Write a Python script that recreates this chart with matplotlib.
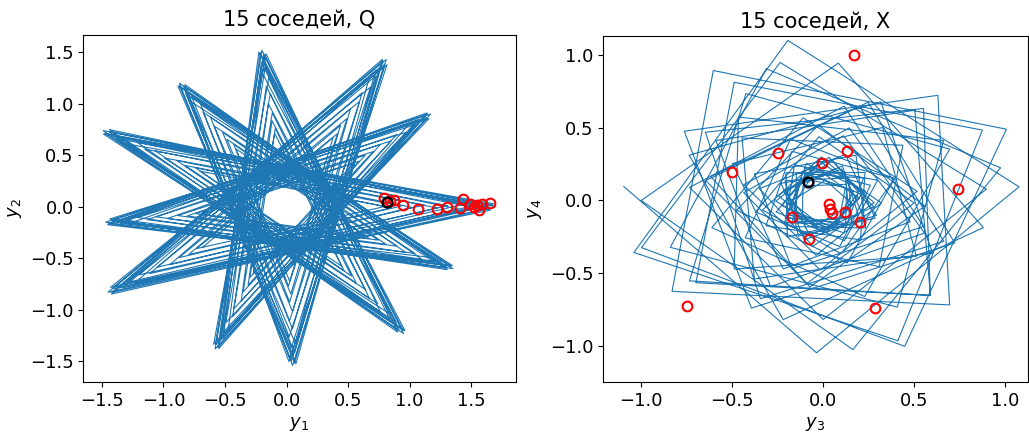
import numpy as np
import matplotlib
matplotlib.use("Agg")
import matplotlib.pyplot as plt

# ============================================================
# DATA
# ============================================================
# Left panel: star tips (outermost pass), visiting order, scale and turn of each pass
tip_x = [1.70, 1.17, 0.81, -0.20, -0.87, -1.49, -1.47, -1.45, -0.58, 0.05, 0.95, 1.35]
tip_y = [0.00, 0.90, 1.43, 1.52, 1.20, 0.74, -0.15, -0.83, -1.38, -1.54, -1.23, -0.60]
tip_order = [0, 5, 10, 3, 8, 1, 6, 11, 4, 9, 2, 7]
pass_scale = [1.00, 0.985, 0.97, 0.99, 0.96, 0.94, 0.975, 0.92, 0.89, 0.86,
              0.82, 0.77, 0.72, 0.66, 0.60, 0.55, 0.50, 0.47]
pass_turn = [0.0, 0.6, -0.4, 1.0, -0.8, 0.3, -1.1, 0.8, -0.2, 1.2,
             -0.9, 0.5, -0.6, 0.9, -0.3, 0.5, -0.7, 0.2]   # degrees

# Left panel: 15 neighbours and the query point
nbr_q_x = [0.79, 0.87, 0.95, 1.07, 1.22, 1.30, 1.41, 1.43, 1.49, 1.55, 1.56, 1.59, 1.65, 1.52, 0.84]
nbr_q_y = [0.09, 0.065, 0.02, -0.02, -0.025, -0.006, -0.01, 0.08, 0.03, 0.016, -0.03, 0.026, 0.04, 0.00, 0.06]
query_q = (0.82, 0.05)

# Right panel: trajectory vertices in polar form (radius, angle in degrees)
traj_r = [1.10, 1.05, 1.08, 1.12, 1.10, 1.05, 1.00, 0.95, 0.90, 0.88,
          0.84, 0.80, 0.76, 0.72, 0.68, 0.64, 0.60, 0.56, 0.52, 0.48,
          0.45, 0.42, 0.38, 0.36, 0.34, 0.30, 0.28, 0.32, 0.26, 0.24,
          0.22, 0.25, 0.28, 0.30, 0.26, 0.22, 0.20, 0.18, 0.22, 0.25,
          0.27, 0.24, 0.21, 0.19, 0.23, 0.26, 0.29, 0.31, 0.28, 0.25,
          0.22, 0.20, 0.24, 0.27, 0.30, 0.33, 0.29, 0.26, 0.23, 0.21,
          0.25, 0.28, 0.31, 0.34, 0.36, 0.32, 0.28, 0.30, 0.34, 0.38,
          0.42, 0.46, 0.50, 0.55, 0.58, 0.62, 0.66, 0.70, 0.75, 0.80,
          0.85, 0.90, 0.95, 1.00, 1.04, 1.00, 0.96, 0.90, 0.84, 0.78,
          0.74, 0.68, 0.64, 0.60, 0.56, 0.52, 0.50, 0.46, 0.44, 0.48,
          0.52, 0.58, 0.64, 0.70, 0.78, 0.85, 0.92, 0.88, 0.80, 0.72,
          0.66, 0.60, 0.52, 0.45, 0.38, 0.32, 0.27, 0.23, 0.20, 0.18,
          0.21, 0.24, 0.20, 0.17, 0.15, 0.19, 0.22, 0.26, 0.23, 0.19,
          0.16, 0.14, 0.18, 0.21, 0.24, 0.27, 0.22, 0.18, 0.15, 0.20,
          0.25, 0.30, 0.36, 0.42, 0.50, 0.58, 0.66, 0.74, 0.82, 0.90,
          0.98, 1.05, 1.10, 1.12, 1.08, 1.04, 1.00, 0.96, 0.90, 0.84,
          0.78, 0.72, 0.66, 0.58, 0.50, 0.44, 0.38, 0.33, 0.28, 0.24]
traj_a = [175, 268, 5, 100, 199, 293, 29, 121, 219, 312,
          49, 144, 243, 337, 73, 165, 263, 356, 93, 188,
          287, 21, 117, 209, 307, 40, 137, 232, 331, 65,
          161, 253, 351, 84, 181, 276, 15, 109, 205, 297,
          35, 128, 225, 320, 59, 153, 249, 341, 79, 172,
          269, 4, 103, 197, 293, 25, 123, 216, 313, 48,
          147, 241, 337, 69, 167, 260, 357, 92, 191, 285,
          21, 113, 211, 304, 41, 136, 235, 329, 65, 157,
          255, 348, 85, 180, 279, 13, 109, 201, 299, 32,
          129, 224, 323, 57, 153, 245, 343, 76, 173, 268,
          7, 101, 197, 289, 27, 120, 217, 312, 51, 145,
          244, 338, 74, 166, 264, 357, 94, 189, 288, 22,
          118, 210, 308, 41, 138, 233, 332, 66, 162, 254,
          352, 85, 182, 277, 16, 110, 206, 298, 36, 129,
          226, 321, 60, 154, 250, 342, 80, 173, 270, 5,
          104, 198, 294, 26, 124, 217, 314, 49, 148, 242,
          338, 70, 168, 261, 358, 93, 192, 286, 22, 114]

# Right panel: 15 neighbours and the query point
nbr_x_x = [0.17, -0.25, 0.13, -0.005, -0.50, 0.74, 0.03, 0.046, 0.12, -0.17, 0.20, -0.08, -0.75, 0.284, 0.04]
nbr_x_y = [1.005, 0.327, 0.338, 0.255, 0.193, 0.08, -0.025, -0.083, -0.08, -0.117, -0.145, -0.266, -0.73, -0.742, -0.06]
query_x = (-0.082, 0.124)

titles = ['15 соседей, Q', '15 соседей, X']

# ============================================================
# BUILD TRAJECTORIES
# ============================================================
tx = np.array(tip_x)[tip_order]
ty = np.array(tip_y)[tip_order]
px, py = [], []
for s, t in zip(pass_scale, pass_turn):
    c, d = np.cos(np.deg2rad(t)), np.sin(np.deg2rad(t))
    px.append(s * (c * tx - d * ty))
    py.append(s * (d * tx + c * ty))
y1 = np.concatenate(px)
y2 = np.concatenate(py)

n = min(len(traj_r), len(traj_a))
rr = np.array(traj_r[:n])
aa = np.deg2rad(traj_a[:n])
y3 = rr * np.cos(aa)
y4 = rr * np.sin(aa)

# ============================================================
# PLOT
# ============================================================
plt.rcParams['font.family'] = ['DejaVu Sans']
plt.rcParams['font.size'] = 13

fig = plt.figure(figsize=(10.29, 4.34), dpi=100)
ax1 = fig.add_axes([0.081, 0.120, 0.420, 0.800])
ax2 = fig.add_axes([0.586, 0.120, 0.413, 0.798])

LINE = dict(color='#1f77b4', linewidth=0.8)
RED = dict(linestyle='none', marker='o', markersize=7, mfc='none', mec='red', mew=1.5)
BLK = dict(linestyle='none', marker='o', markersize=7, mfc='none', mec='black', mew=1.8)

ax1.plot(y1, y2, **LINE)
ax1.plot(nbr_q_x, nbr_q_y, **RED)
ax1.plot([query_q[0]], [query_q[1]], **BLK)
ax1.set_xlim(-1.65, 1.86)
ax1.set_ylim(-1.70, 1.67)
ax1.set_xticks([-1.5, -1.0, -0.5, 0.0, 0.5, 1.0, 1.5])
ax1.set_yticks([-1.5, -1.0, -0.5, 0.0, 0.5, 1.0, 1.5])
ax1.set_xlabel('$y_1$')
ax1.set_ylabel('$y_2$')
ax1.set_title(titles[0], fontsize=15)

ax2.plot(y3, y4, **LINE)
ax2.plot(nbr_x_x, nbr_x_y, **RED)
ax2.plot([query_x[0]], [query_x[1]], **BLK)
ax2.set_xlim(-1.21, 1.125)
ax2.set_ylim(-1.25, 1.136)
ax2.set_xticks([-1.0, -0.5, 0.0, 0.5, 1.0])
ax2.set_yticks([-1.0, -0.5, 0.0, 0.5, 1.0])
ax2.set_xlabel('$y_3$')
ax2.set_ylabel('$y_4$')
ax2.set_title(titles[1], fontsize=15)

fig.savefig('out.png', dpi=100)
